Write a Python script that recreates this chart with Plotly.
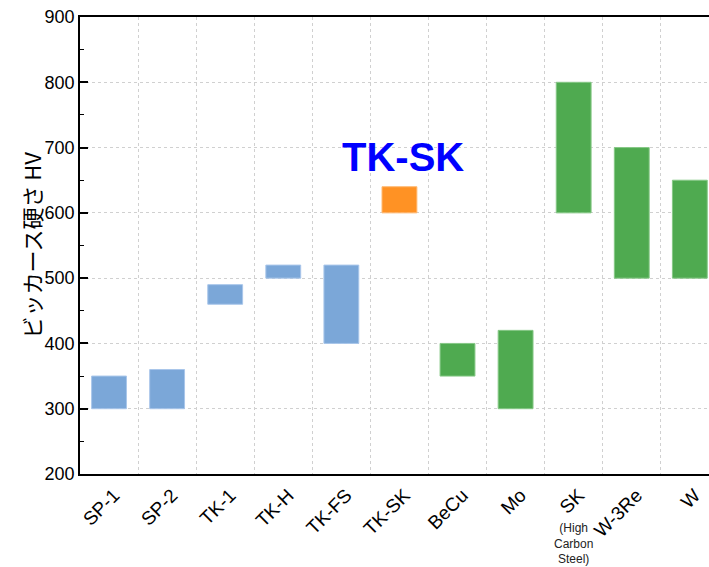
import plotly.graph_objects as go

categories = ["SP-1", "SP-2", "TK-1", "TK-H", "TK-FS", "TK-SK", "BeCu", "Mo", "SK", "W-3Re", "W"]
hv_low = [300, 300, 460, 500, 400, 600, 350, 300, 600, 500, 500]
hv_high = [350, 360, 490, 520, 520, 640, 400, 420, 800, 700, 650]
groups = ["blue"] * 5 + ["orange"] + ["green"] * 5
colour_map = {"blue": "#7BA7D8", "orange": "#FF9224", "green": "#4FAA50"}
edge_map = {"blue": "#A9C6EA", "orange": "#FFB870", "green": "#86C886"}
y_ticks = [200, 300, 400, 500, 600, 700, 800, 900]
y_title = "ビッカース硬さ HV"

fig = go.Figure()
fig.add_trace(go.Bar(
    x=categories,
    y=[h - l for h, l in zip(hv_high, hv_low)],
    base=hv_low,
    width=0.6,
    marker=dict(color=[colour_map[g] for g in groups],
                line=dict(color=[edge_map[g] for g in groups], width=1)),
    showlegend=False,
))

fig.add_annotation(x="TK-SK", y=686, xref="x", yref="y", text="<b>TK-SK</b>",
                   showarrow=False, xshift=4,
                   font=dict(family="Liberation Sans, Arial", size=40, color="#0000FF"))
fig.add_annotation(x="SK", y=0, xref="x", yref="paper", text="(High<br>Carbon<br>Steel)",
                   showarrow=False, yanchor="top", yshift=-45,
                   font=dict(family="Liberation Sans, Arial", size=12, color="#222222"))
fig.add_annotation(x=0, y=0.5, xref="paper", yref="paper", text=y_title,
                   showarrow=False, textangle=-90, xanchor="center", yanchor="middle",
                   xshift=-50,
                   font=dict(family="Noto Sans CJK JP", size=22, color="black"))

fig.update_layout(
    width=709, height=567,
    margin=dict(l=80, r=0, t=17, b=93),
    plot_bgcolor="white", paper_bgcolor="white",
    font=dict(family="Liberation Sans, Arial", size=18, color="black"),
    bargap=0.4,
)
fig.update_xaxes(
    type="category", range=[-0.5, 10.33], automargin=False,
    tickson="boundaries", ticks="", tickangle=-45,
    ticklabelstandoff=1, ticklabelshift=5,
    showgrid=True, gridcolor="#D0D0D0", griddash="dot", gridwidth=1,
    showline=True, linecolor="black", linewidth=1.5, mirror=True,
    tickfont=dict(size=19),
)
fig.update_yaxes(
    range=[200, 900], tickvals=y_ticks, automargin=False,
    ticks="inside", ticklen=8, tickwidth=1.5, tickcolor="black",
    minor=dict(dtick=50, ticks="inside", ticklen=4, tickwidth=1.2, tickcolor="black", showgrid=False),
    showgrid=True, gridcolor="#D0D0D0", griddash="dot", gridwidth=1,
    showline=True, linecolor="black", linewidth=1.5,
    zeroline=False, tickfont=dict(size=18),
)

fig.write_html("out.html", config={"displayModeBar": False},
               post_script="document.body.style.margin='0';")
